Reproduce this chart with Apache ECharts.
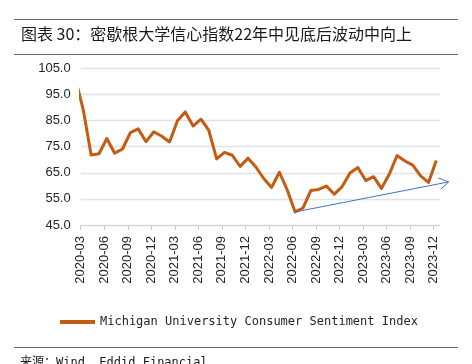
<!DOCTYPE html>
<html>
<head>
<meta charset="utf-8">
<style>
html,body{margin:0;padding:0;background:#fff;}
#chart{width:472px;height:364px;}
</style>
<script src="https://cdn.jsdelivr.net/npm/echarts@6/dist/echarts.min.js"></script>
</head>
<body>
<div id="chart"></div>
<script>
// Months (the first one, 2020-02, lies just left of the axis start and is clipped)
const months = ['2020-02','2020-03','2020-04','2020-05','2020-06','2020-07','2020-08','2020-09','2020-10','2020-11','2020-12',
  '2021-01','2021-02','2021-03','2021-04','2021-05','2021-06','2021-07','2021-08','2021-09','2021-10','2021-11','2021-12',
  '2022-01','2022-02','2022-03','2022-04','2022-05','2022-06','2022-07','2022-08','2022-09','2022-10','2022-11','2022-12',
  '2023-01','2023-02','2023-03','2023-04','2023-05','2023-06','2023-07','2023-08','2023-09','2023-10','2023-11','2023-12'];
const sentiment = [101.0, 89.1, 71.8, 72.3, 78.1, 72.5, 74.1, 80.4, 81.8, 76.9, 80.7,
  79.0, 76.8, 84.9, 88.3, 82.9, 85.5, 81.2, 70.3, 72.8, 71.7, 67.4, 70.6,
  67.2, 62.8, 59.4, 65.2, 58.4, 50.0, 51.5, 58.2, 58.6, 59.9, 56.8, 59.7,
  64.9, 67.0, 62.0, 63.5, 59.0, 64.4, 71.6, 69.5, 67.9, 63.8, 61.3, 69.7];
const xTickLabels = ['2020-03','2020-06','2020-09','2020-12','2021-03','2021-06','2021-09','2021-12',
  '2022-03','2022-06','2022-09','2022-12','2023-03','2023-06','2023-09','2023-12'];
const yTicks = [45, 55, 65, 75, 85, 95, 105];
// trend arrow: from the 2022-06 low to a point beyond the last month
const trendStart = ['2022-06', 50.0];
const trendEnd = [46.9, 61.5]; // months after 2020-03, value
const seriesName = 'Michigan University Consumer Sentiment Index';

// x axis unit: months since 2020-03 (tick = start of month); observations sit ~1/3 into the month
const BASE = months.indexOf('2020-03');
const DAY_OFFSET = 0.33;
const monthPos = m => months.indexOf(m) - BASE + DAY_OFFSET;
const lineData = sentiment.map((v, i) => [i - BASE + DAY_OFFSET, v]);
const tickPos = xTickLabels.map(m => months.indexOf(m) - BASE);

const chart = echarts.init(document.getElementById('chart'), null, {renderer: 'canvas'});
const orange = '#C55A11';
const latin = '"Liberation Sans", Arial, sans-serif';

chart.setOption({
  backgroundColor: '#ffffff',
  animation: false,
  grid: {left: 80.7, right: 32, top: 68.3, bottom: 139, containLabel: false},
  xAxis: {
    type: 'value',
    min: 0,
    max: 45.8,
    axisLine: {show: true, lineStyle: {color: '#d0d0d0', width: 1}},
    axisTick: {show: true, length: 5, customValues: tickPos, lineStyle: {color: '#d0d0d0'}},
    splitLine: {show: false},
    axisLabel: {
      customValues: tickPos,
      rotate: 90,
      margin: 11,
      fontSize: 13,
      fontFamily: latin,
      color: '#262626',
      formatter: v => xTickLabels[tickPos.indexOf(Math.round(v))] || ''
    }
  },
  yAxis: {
    type: 'value',
    min: yTicks[0],
    max: yTicks[yTicks.length - 1],
    interval: 10,
    axisLine: {show: false},
    axisTick: {show: false},
    splitLine: {show: true, lineStyle: {color: '#e3e3e3', width: 1.3}},
    axisLabel: {
      margin: 10,
      fontSize: 13,
      fontFamily: latin,
      color: '#262626',
      formatter: v => v.toFixed(1)
    }
  },
  legend: {
    data: [seriesName],
    left: 55,
    top: 311,
    icon: 'rect',
    itemWidth: 35,
    itemHeight: 4,
    itemGap: 10,
    textStyle: {fontFamily: '"DejaVu Sans Mono", monospace', fontSize: 12, color: '#262626'}
  },
  series: [
    {
      name: seriesName,
      type: 'line',
      data: lineData,
      symbol: 'none',
      clip: true,
      lineStyle: {color: orange, width: 3, join: 'round'},
      itemStyle: {color: orange},
      z: 3
    },
    {
      name: 'trend',
      type: 'custom',
      coordinateSystem: 'cartesian2d',
      clip: false,
      silent: true,
      data: [[monthPos(trendStart[0]), trendStart[1], trendEnd[0], trendEnd[1]]],
      renderItem: function (params, api) {
        const p1 = api.coord([api.value(0), api.value(1)]);
        const p2 = api.coord([api.value(2), api.value(3)]);
        const dx = p2[0] - p1[0], dy = p2[1] - p1[1];
        const len = Math.sqrt(dx * dx + dy * dy);
        const ux = dx / len, uy = dy / len;
        const a = 11, ang = 32 * Math.PI / 180;
        const c = Math.cos(ang), s = Math.sin(ang);
        const b1 = [p2[0] - a * (ux * c - uy * s), p2[1] - a * (uy * c + ux * s)];
        const b2 = [p2[0] - a * (ux * c + uy * s), p2[1] - a * (uy * c - ux * s)];
        const st = {stroke: '#4472C4', lineWidth: 1, fill: null};
        return {
          type: 'group',
          children: [
            {type: 'line', shape: {x1: p1[0], y1: p1[1], x2: p2[0], y2: p2[1]}, style: st},
            {type: 'polyline', shape: {points: [b1, p2, b2]}, style: st}
          ]
        };
      },
      z: 4
    }
  ],
  graphic: [
    {type: 'line', shape: {x1: 14, y1: 19.5, x2: 458, y2: 19.5}, style: {stroke: '#6b6b6b', lineWidth: 1.2}},
    {type: 'text', x: 21, y: 34, style: {text: '图表 30：密歇根大学信心指数22年中见底后波动中向上', font: '16px "Noto Sans CJK SC", sans-serif', fill: '#1a1a1a', verticalAlign: 'middle'}},
    {type: 'line', shape: {x1: 14, y1: 54.5, x2: 458, y2: 54.5}, style: {stroke: '#6b6b6b', lineWidth: 1.2}},
    {type: 'line', shape: {x1: 14, y1: 347.5, x2: 458, y2: 347.5}, style: {stroke: '#6b6b6b', lineWidth: 1.2}},
    {type: 'text', x: 20, y: 362.5, style: {text: '来源：Wind, Eddid Financial', font: '12px "DejaVu Sans Mono", "Noto Sans CJK SC", monospace', fill: '#1a1a1a', verticalAlign: 'middle'}}
  ]
});
</script>
</body>
</html>
